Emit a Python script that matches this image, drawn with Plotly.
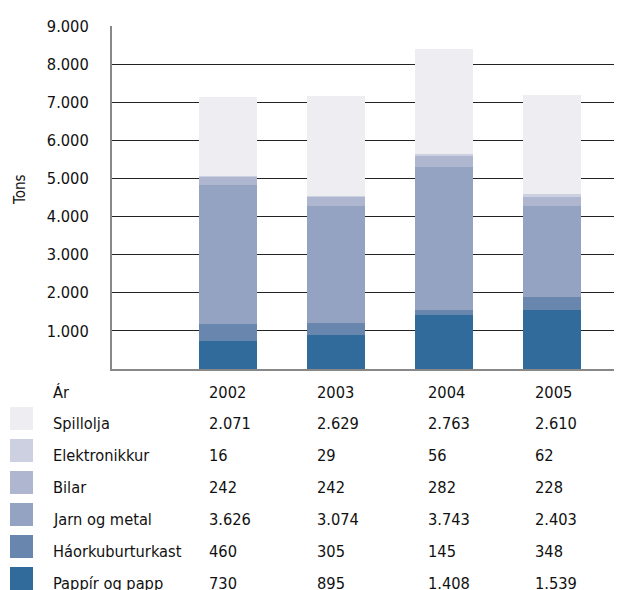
import plotly.graph_objects as go

years = ["2002", "2003", "2004", "2005"]
year_x = [2002, 2003, 2004, 2005]
categories = ["Pappír og papp", "Háorkuburturkast", "Jarn og metal", "Bilar", "Elektronikkur", "Spillolja"]
pappir = [730, 895, 1408, 1539]
haorku = [460, 305, 145, 348]
jarn = [3626, 3074, 3743, 2403]
bilar = [242, 242, 282, 228]
elektronikkur = [16, 29, 56, 62]
spillolja = [2071, 2629, 2763, 2610]
series = [pappir, haorku, jarn, bilar, elektronikkur, spillolja]
colors = ["#306B9B", "#6886AE", "#94A3C2", "#AFB6CF", "#CDD0E0", "#EDEDF2"]
y_ticks = [1000, 2000, 3000, 4000, 5000, 6000, 7000, 8000, 9000]
y_ticktext = ["1.000", "2.000", "3.000", "4.000", "5.000", "6.000", "7.000", "8.000", "9.000"]

FONT = "DejaVu Sans Condensed, sans-serif"
FS = 16.3
OFF = 8  # page body margin
W, H = 622, 590
# target page-pixel geometry of the plot area
PL, PT, PB, PR = 112, 26, 369, 622
L, T = PL - OFF, PT - OFF
B = H - (PB - OFF)
R = W - (PR - OFF)
PW, PH = PR - PL, PB - PT


def px(x):
    return (x - PL) / PW


def py(y):
    return (PB - y) / PH


def fmt(v):
    return f"{v:,}".replace(",", ".")


fig = go.Figure()
for name, vals, col in zip(categories, series, colors):
    fig.add_trace(go.Bar(x=year_x, y=vals, name=name, marker=dict(color=col, line=dict(width=0)),
                         width=0.54, showlegend=False))

fig.update_layout(
    barmode="stack",
    width=W, height=H,
    margin=dict(l=L, r=R, t=T, b=B),
    paper_bgcolor="white", plot_bgcolor="white",
    font=dict(family=FONT, size=FS, color="#111111"),
    xaxis=dict(range=[2000.926, 2005.648], showticklabels=False, showgrid=False, zeroline=False,
               showline=True, linecolor="#888888", linewidth=2),
    yaxis=dict(range=[0, 9000], tickvals=y_ticks, ticktext=y_ticktext, showgrid=True,
               gridcolor="#222222", gridwidth=1, zeroline=False, showline=True,
               linecolor="#888888", linewidth=2, ticks="", ticklabelstandoff=18,
               tickfont=dict(family=FONT, size=FS, color="#111111")),
)


def A(x, y, text, xanchor="left", **kw):
    return dict(x=px(x), y=py(y), text=text, xanchor=xanchor, yanchor="middle", showarrow=False,
                xref="paper", yref="paper", **kw)


ann = [A(20, 190, "Tons", xanchor="center", textangle=-90, font=dict(size=15))]
ann.append(A(51, 392, "Ár"))
col_x = [207, 315, 426, 533]
for yr, cx in zip(years, col_x):
    ann.append(A(cx, 392, yr))
shapes = []
rows = list(zip(categories, series, colors))[::-1]
for i, (name, vals, col) in enumerate(rows):
    yc = 423 + 32 * i
    ann.append(A(51, yc, name))
    for v, cx in zip(vals, col_x):
        ann.append(A(cx, yc, fmt(v)))
    top = 407 + 32 * i
    shapes.append(dict(type="rect", xref="paper", yref="paper", x0=px(10), x1=px(33),
                       y0=py(top + 23), y1=py(top), fillcolor=col, line=dict(width=0)))

fig.update_layout(annotations=ann, shapes=shapes)
fig.write_html("out.html")
